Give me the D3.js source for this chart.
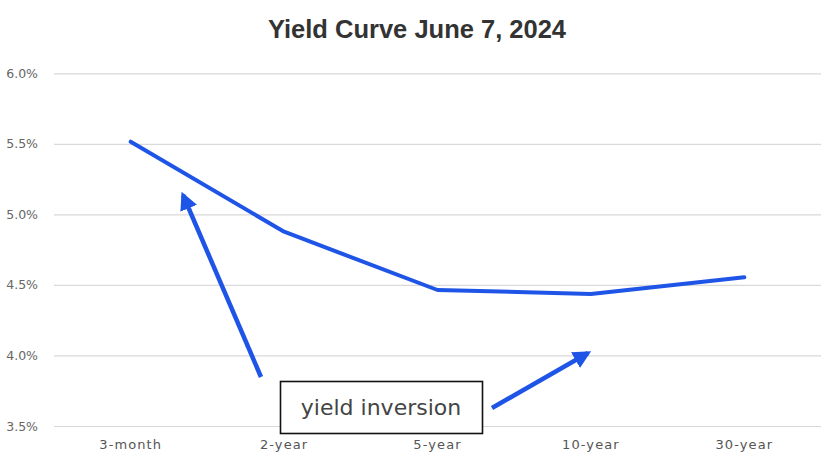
<!DOCTYPE html>
<html>
<head>
<meta charset="utf-8">
<script src="https://cdn.jsdelivr.net/npm/d3@7"></script>
<style>
  html, body { margin: 0; padding: 0; background: #fff; }
  svg { display: block; }
</style>
</head>
<body>
<svg id="chart" width="840" height="472"></svg>
<script>
const categories = ["3-month", "2-year", "5-year", "10-year", "30-year"];
const yields = [5.515, 4.877, 4.464, 4.436, 4.554];
const yTicks = [3.5, 4.0, 4.5, 5.0, 5.5, 6.0];
const title = "Yield Curve June 7, 2024";
const annotationText = "yield inversion";

const svg = d3.select("#chart");

const x = d3.scaleBand().domain(categories).range([54, 821]);
const y = d3.scaleLinear().domain([3.5, 6.0]).range([426, 73.3]);
const cx = d => x(d) + x.bandwidth() / 2;

// title
svg.append("text")
  .attr("x", 417).attr("y", 38)
  .attr("text-anchor", "middle")
  .attr("font-family", "Liberation Sans, Arial, sans-serif")
  .attr("font-weight", "bold")
  .attr("font-size", 25.5)
  .attr("fill", "#333")
  .text(title);

// y axis + gridlines
const yAxis = d3.axisLeft(y).tickValues(yTicks)
  .tickFormat(d => d.toFixed(1) + "%")
  .tickSize(-(821 - 54)).tickPadding(16);
const gy = svg.append("g").attr("transform", "translate(54,0)").call(yAxis);
gy.select(".domain").remove();
gy.selectAll(".tick line").attr("stroke", "#d9d9d9").attr("stroke-width", 1.2);
gy.selectAll(".tick text")
  .attr("font-family", "DejaVu Sans, sans-serif")
  .attr("font-size", 12.5)
  .attr("fill", "#666");

// x axis
const xAxis = d3.axisBottom(x).tickSize(0).tickPadding(0);
const gx = svg.append("g").attr("transform", "translate(0,440)").call(xAxis);
gx.select(".domain").remove();
gx.selectAll(".tick text")
  .attr("font-family", "DejaVu Sans, sans-serif")
  .attr("font-size", 13)
  .attr("letter-spacing", 1.1)
  .attr("fill", "#555");

// line
const line = d3.line().x((d, i) => cx(categories[i])).y(d => y(d));
svg.append("path")
  .datum(yields)
  .attr("d", line)
  .attr("fill", "none")
  .attr("stroke", "#1f55e6")
  .attr("stroke-width", 4)
  .attr("stroke-linejoin", "round")
  .attr("stroke-linecap", "round");

// arrows
const defs = svg.append("defs");
defs.append("marker")
  .attr("id", "ah")
  .attr("viewBox", "0 0 10 10")
  .attr("refX", 8).attr("refY", 5)
  .attr("markerWidth", 4).attr("markerHeight", 4)
  .attr("markerUnits", "strokeWidth")
  .attr("orient", "auto")
  .append("path").attr("d", "M0,0 L10,5 L0,10 Z").attr("fill", "#1f55e6");

const arrows = [
  { x1: 261, y1: 377, x2: 183, y2: 195 },
  { x1: 492, y1: 408, x2: 588, y2: 353 }
];
svg.selectAll("line.arrow").data(arrows).enter().append("line")
  .attr("class", "arrow")
  .attr("x1", d => d.x1).attr("y1", d => d.y1)
  .attr("x2", d => d.x2).attr("y2", d => d.y2)
  .attr("stroke", "#1f55e6")
  .attr("stroke-width", 4.5)
  .attr("marker-end", "url(#ah)");

// annotation box
svg.append("rect")
  .attr("x", 280.5).attr("y", 381.5)
  .attr("width", 202).attr("height", 52)
  .attr("fill", "#fff")
  .attr("stroke", "#111")
  .attr("stroke-width", 1.6);
svg.append("text")
  .attr("x", 381).attr("y", 415)
  .attr("text-anchor", "middle")
  .attr("font-family", "DejaVu Sans, sans-serif")
  .attr("font-size", 22)
  .attr("fill", "#444")
  .text(annotationText);
</script>
</body>
</html>
